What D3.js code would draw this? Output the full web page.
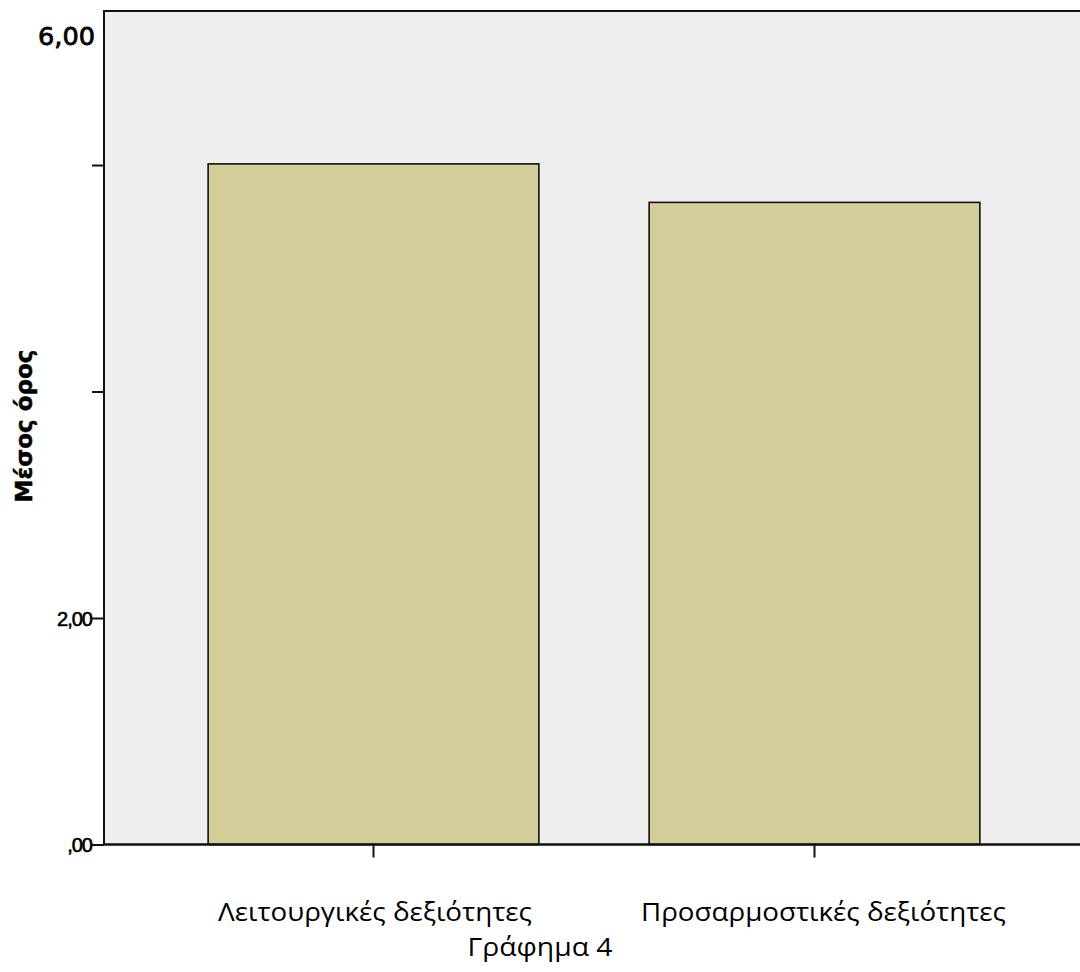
<!DOCTYPE html>
<html>
<head>
<meta charset="utf-8">
<script src="https://cdn.jsdelivr.net/npm/d3@7"></script>
<style>
  html, body { margin: 0; padding: 0; background: #ffffff; }
  svg { display: block; }
</style>
</head>
<body>
<svg id="chart" width="1080" height="972"></svg>
<script>
const categories = ["Λειτουργικές δεξιότητες", "Προσαρμοστικές δεξιότητες"];
const values = [6.01, 5.67];
const yTickValues = [0, 2, 4, 6];
const yTickLabels = [",00", "2,00", "", ""];
const topLabel = "6,00";
const yTitle = "Μέσος όρος";
const caption = "Γράφημα 4";

const svg = d3.select("#chart");
const pLeft = 104, pRight = 1080, pTop = 11, pBottom = 844.5;

const y = d3.scaleLinear().domain([0, 7.36]).range([pBottom, pTop]);
const x = d3.scaleBand().domain(categories).range([153, 1035])
  .paddingInner(0.25).paddingOuter(0.125);

// plot background
svg.append("rect").attr("x", pLeft).attr("y", pTop)
  .attr("width", pRight - pLeft + 2).attr("height", pBottom - pTop)
  .attr("fill", "#eeeeee");

// bars
svg.selectAll("rect.bar").data(values).enter().append("rect")
  .attr("class", "bar")
  .attr("x", (d, i) => x(categories[i]))
  .attr("y", d => y(d))
  .attr("width", x.bandwidth())
  .attr("height", d => y(0) - y(d))
  .attr("fill", "#d3ce98")
  .attr("stroke", "#111")
  .attr("stroke-width", 1.6);

// frame top + left
svg.append("path")
  .attr("d", `M${pRight + 2},${pTop} H${pLeft} V${pBottom}`)
  .attr("fill", "none").attr("stroke", "#111").attr("stroke-width", 2);

// y axis
const yAxis = d3.axisLeft(y).tickValues(yTickValues)
  .tickSize(12).tickPadding(0)
  .tickFormat((d, i) => yTickLabels[i]);
const gy = svg.append("g").attr("transform", `translate(${pLeft},0)`).call(yAxis);
gy.select(".domain").remove();
gy.selectAll(".tick line").attr("stroke", "#111").attr("stroke-width", 2);
gy.selectAll(".tick text")
  .attr("font-family", "Liberation Sans").attr("font-size", 20)
  .attr("letter-spacing", -1)
  .attr("fill", "#000").attr("stroke", "#000").attr("stroke-width", 0.6)
  .attr("dy", "0.36em");

// x axis
const xAxis = d3.axisBottom(x).tickSize(13).tickPadding(0).tickFormat(() => "");
const gx = svg.append("g").attr("transform", `translate(0,${pBottom})`).call(xAxis);
gx.select(".domain").remove();
gx.selectAll(".tick line").attr("stroke", "#111").attr("stroke-width", 2);
svg.append("line").attr("x1", pLeft).attr("x2", pRight + 2)
  .attr("y1", pBottom).attr("y2", pBottom)
  .attr("stroke", "#111").attr("stroke-width", 2.5);

// category labels
const labelShift = [1.5, 9];
svg.selectAll("text.cat").data(categories).enter().append("text")
  .attr("class", "cat")
  .attr("x", (d, i) => x(d) + x.bandwidth() / 2 + labelShift[i])
  .attr("y", 921)
  .attr("text-anchor", "middle")
  .attr("font-family", "Open Sans")
  .attr("font-size", 25)
  .attr("textLength", (d, i) => i === 0 ? 314 : 365)
  .attr("lengthAdjust", "spacingAndGlyphs")
  .attr("fill", "#000")
  .text(d => d);

// top label
svg.append("text").attr("x", 95).attr("y", 45)
  .attr("text-anchor", "end")
  .attr("font-family", "DejaVu Sans").attr("font-size", 25.6)
  .attr("fill", "#000").attr("stroke", "#000").attr("stroke-width", 0.8)
  .text(topLabel);

// y title
svg.append("text")
  .attr("transform", "translate(32,426) rotate(-90)")
  .attr("text-anchor", "middle")
  .attr("font-family", "DejaVu Sans").attr("font-weight", "bold")
  .attr("font-size", 23).attr("fill", "#000")
  .attr("stroke", "#000").attr("stroke-width", 0.5)
  .text(yTitle);

// caption
svg.append("text").attr("x", 540).attr("y", 956)
  .attr("text-anchor", "middle")
  .attr("font-family", "Open Sans").attr("font-size", 25)
  .attr("textLength", 145).attr("lengthAdjust", "spacingAndGlyphs")
  .attr("fill", "#000").text(caption);
</script>
</body>
</html>
